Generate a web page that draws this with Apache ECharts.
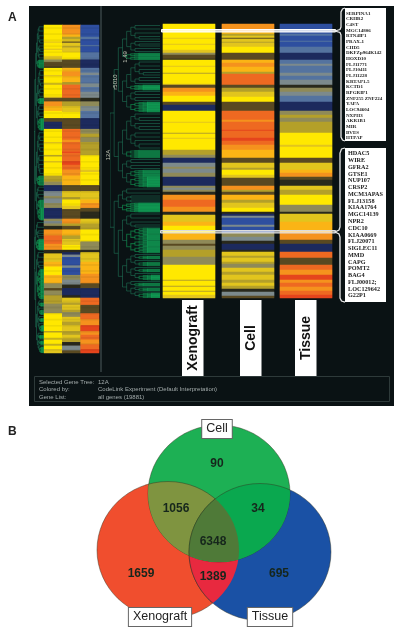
<!DOCTYPE html>
<html>
<head>
<meta charset="utf-8">
<title>Xenograft, Cell, Tissue</title>
<style>
html, body { margin: 0; padding: 0; background: #fff; }
#main { width: 400px; height: 635px; }
</style>
<script src="https://cdn.jsdelivr.net/npm/echarts@6/dist/echarts.min.js"></script>
</head>
<body>
<div id="main"></div>
<script>
// expression levels, low to high
var levelCodes = ['k', 'n', 'b', 'c', 'g', 'm', 'v', 't', 'h', 'y', 'a', 'o', 'r', 's'];
var levelColors = ['#2a2a1c', '#1d2b5e', '#2f4f9f', '#55739f', '#7d8a8c', '#5a4a22', '#8f8a58',
    '#b5a02a', '#e2c51e', '#ffe800', '#fbb416', '#f5921e', '#ee6a22', '#e5451c'];

var samples = ['Xenograft', 'Cell', 'Tissue'];
var rowCount = 274;

// bands: level code + row where the band ends
var xenograftBands = 'y14 h15 y20 h21 y26 h29 v31 m35 k36 y42 h43 y49 t50 y60 h61 m64 o68 a72 y78 m81 n87 y98 h99 y109 t110 y114 h115 y126 t131 v134 n139 g143 v145 g149 v153 n162 v164 g166 v168 k171 o176 r183 o188 k191 h198 a202 y209 a216 v220 m222 v226 t233 v241 y256 t257 y262 t263 y267 t268 y271 h274';
var cellBands = 'o8 a10 t12 h14 m15 h18 t19 h23 y29 m36 a39 o43 a48 t50 r61 m64 t68 h73 y78 m87 r96 o98 r106 s107 r114 s117 r121 o126 a134 m139 h144 t146 y151 h154 m162 o166 t168 m171 a176 t179 h184 y188 k190 n192 g194 b201 g203 b209 v213 g217 k220 n226 k228 h232 t234 h238 t240 v244 h248 t251 h256 t259 h262 t265 k268 g272 m274';
var tissueBands = 'b10 c12 b17 c18 b23 c29 n36 c40 g42 c49 g52 c56 g61 k64 v68 g72 c78 n87 v91 t94 v98 t109 y121 h123 y134 m139 h146 a149 o153 m156 k162 h166 t171 y181 v188 k190 h198 a208 o216 m220 n228 r234 m241 r246 o251 s256 o259 r263 o267 r271 s274';

// gene tree: number = single branch covering n rows, negative = dense cluster of n rows
var clusterA1 = [[[[3, 4], [4, [3, 2]]], [[3, [2, 2]], [3, 3]]], -7];
var clusterA2 = [[[[4, 4], [3, [3, 2]]], [[3, 3], 3]], -5];
var clusterA3 = [[[3, 3], [3, 3]], -10];
var clusterB = [[[[4, [3, 3]], [3, [3, 3]]], [[4, 4], [3, [4, 4]]]], -8];
var clusterC = [[[3, 3], [3, 3]], [-7, -10]];
var clusterD = [[[4, 4], [[2, 2], [2, 2]]], -9];
var clusterE = [[[4, 4], [4, [2, 2]]], -25];
var clusterF = [[[[3, -3], [3, -4]], [[3, -3], [3, -5]]], [[3, -3], [[2, -3], [2, -5]]]];
var geneTree = [[[clusterA1, [clusterA2, clusterA3]], [clusterB, clusterC]], [clusterD, [clusterE, clusterF]]];
var treeDepth = 12;

var upperGenes = ['SERPINA1', 'CRHR2', 'C4ST', 'MGC14806', 'RTN4IP1', 'PRAX-1', 'CHD5', 'DKFZp964K142', 'HOXD10', 'FLJ11771', 'FLJ10411', 'FLJ11228', 'KRTAP1-5', 'KCTD1', 'RPGRIP1', 'ZNF255 ZNF224', 'YAPA', 'LOC94604', 'NXPH3', 'AKR1B1', 'MIR', 'BVES', 'HTPAP'];
var lowerGenes = ['HDAC5', 'WIRE', 'GFRA2', 'GTSE1', 'NUP107', 'CRSP2', 'MCM3APAS', 'FLJ13158', 'KIAA1764', 'MGC14139', 'NPR2', 'CDC10', 'KIAA0669', 'FLJ20071', 'SIGLEC11', 'MMD', 'CAPG', 'POMT2', 'BAG4', 'FLJ00012;', 'LOC129642', 'G22P1'];

var infoLabels = ['Selected Gene Tree:', 'Colored by:', 'Gene List:'];
var infoValues = ['12A', 'CodeLink Experiment (Default Interpretation)', 'all genes (19881)'];

// venn diagram
var vennSets = ['Cell', 'Xenograft', 'Tissue'];
var vennSetX = [219, 168, 260];
var vennSetY = [493.5, 550, 552];
var vennRadiusX = 71;
var vennRadiusY = 68.5;
var vennCounts = [90, 1056, 34, 6348, 1659, 1389, 695];
var vennCountX = [217, 176, 258, 213, 141, 213, 279];
var vennCountY = [464, 509, 509, 542, 574, 577, 574];
var vennLabelX = [217, 160, 270];
var vennLabelY = [429, 617, 617];

function expandBands(bands) {
    var rows = [];
    bands.split(' ').forEach(function (b) {
        var level = levelCodes.indexOf(b.charAt(0));
        var end = +b.slice(1);
        while (rows.length < end) rows.push(level);
    });
    return rows;
}
var sampleRows = [expandBands(xenograftBands), expandBands(cellBands), expandBands(tissueBands)];
var rowNames = sampleRows[0].map(function (v, i) { return i; });

// walk the tree, one polyline for each bracket
function buildTreeLines() {
    var out = [];
    var cursor = 0;
    var sparse = { color: '#238f68', width: 0.9 };
    var dense = { color: '#12b560', width: 1.1 };
    function bracket(depth, kids, style) {
        var first = kids[0], last = kids[kids.length - 1];
        out.push({
            coords: [[first.d, first.y], [depth, first.y], [depth, last.y], [last.d, last.y]],
            lineStyle: style
        });
        for (var i = 1; i < kids.length - 1; i++) {
            out.push({ coords: [[depth, kids[i].y], [kids[i].d, kids[i].y]], lineStyle: style });
        }
        return { d: depth, y: (first.y + last.y) / 2 };
    }
    function wedge(rows, depth) {
        if (rows <= 0.5) {
            cursor += rows;
            return { d: treeDepth, y: cursor - rows / 2 };
        }
        var d = Math.min(depth, treeDepth - 0.5);
        return bracket(d, [wedge(rows / 2, depth + 1), wedge(rows / 2, depth + 1)], dense);
    }
    function walk(node, depth) {
        if (typeof node === 'number') {
            if (node < 0) return wedge(-node, depth);
            cursor += node;
            return { d: treeDepth, y: cursor - node / 2 };
        }
        return bracket(depth, node.map(function (c) { return walk(c, depth + 1); }), sparse);
    }
    walk(geneTree, 0);
    return out;
}
var treeLines = buildTreeLines();

var grids = [], xAxes = [], yAxes = [], series = [];

function addGrid(left, top, width, height, xAxis, yAxis) {
    var idx = grids.length;
    grids.push({ left: left, top: top, width: width, height: height, containLabel: false });
    xAxis.gridIndex = idx; xAxis.show = false;
    yAxis.gridIndex = idx; yAxis.show = false;
    xAxes.push(xAxis);
    yAxes.push(yAxis);
    return idx;
}

function addHeatmap(left, top, width, height, names) {
    var g = addGrid(left, top, width, height,
        { type: 'category', data: names },
        { type: 'category', data: rowNames, inverse: true });
    var data = [];
    names.forEach(function (name, c) {
        sampleRows[samples.indexOf(name)].forEach(function (v, r) { data.push([c, r, v]); });
    });
    series.push({ type: 'heatmap', xAxisIndex: g, yAxisIndex: g, data: data, silent: true, progressive: 0, itemStyle: { borderWidth: 0 } });
}

function addTree(left, top, width, height) {
    var g = addGrid(left, top, width, height,
        { type: 'value', min: 0, max: treeDepth },
        { type: 'value', min: 0, max: rowCount, inverse: true });
    series.push({ type: 'lines', coordinateSystem: 'cartesian2d', xAxisIndex: g, yAxisIndex: g, polyline: true, silent: true, data: treeLines });
}

addHeatmap(44, 25, 55, 328, samples);
addHeatmap(163, 24, 52, 274, ['Xenograft']);
addHeatmap(222, 24, 52, 274, ['Cell']);
addHeatmap(280, 24, 52, 274, ['Tissue']);
var heatmapSeries = [0, 1, 2, 3];

addTree(34, 25, 10, 328);
addTree(110, 24, 50, 274);

// venn: whole page as plot area
var vennGrid = addGrid(0, 0, 400, 635,
    { type: 'value', min: 0, max: 400 },
    { type: 'value', min: 0, max: 635, inverse: true });

var vennRegions = [
    { sets: [1], color: '#f04e2e' },
    { sets: [2], color: '#1a51a5' },
    { sets: [1, 2], color: '#e8293f' },
    { sets: [0], color: '#1db054' },
    { sets: [0, 1], color: '#7f9440' },
    { sets: [0, 2], color: '#0aa84f' },
    { sets: [0, 1, 2], color: '#4f7a38' }
];

function vennShape(api, i) {
    var p = api.coord([vennSetX[i], vennSetY[i]]);
    var s = api.size([vennRadiusX, vennRadiusY]);
    return { cx: p[0], cy: p[1], rx: s[0], ry: s[1] };
}

series.push({
    type: 'custom',
    xAxisIndex: vennGrid, yAxisIndex: vennGrid,
    silent: true,
    clip: false,
    data: vennRegions.map(function (r, i) { return [i]; }),
    renderItem: function (params, api) {
        var region = vennRegions[api.value(0)];
        var sets = region.sets;
        var el = {
            type: 'ellipse',
            shape: vennShape(api, sets[sets.length - 1]),
            style: { fill: region.color, stroke: 'rgba(50,50,30,0.45)', lineWidth: 1 }
        };
        if (sets.length > 1) el.clipPath = { type: 'ellipse', shape: vennShape(api, sets[0]) };
        if (sets.length > 2) {
            el.clipPath = { type: 'ellipse', shape: vennShape(api, sets[1]) };
            el = { type: 'group', clipPath: { type: 'ellipse', shape: vennShape(api, sets[0]) }, children: [el] };
        }
        return el;
    }
});

series.push({
    type: 'scatter',
    xAxisIndex: vennGrid, yAxisIndex: vennGrid,
    silent: true,
    symbolSize: 0,
    z: 5,
    itemStyle: { opacity: 1 },
    data: vennCounts.map(function (v, i) { return [vennCountX[i], vennCountY[i], v]; }),
    label: {
        show: true, position: 'inside',
        fontFamily: 'Liberation Sans', fontWeight: 'bold', fontSize: 12,
        color: '#16261c',
        formatter: function (p) { return String(p.value[2]); }
    }
});

series.push({
    type: 'scatter',
    xAxisIndex: vennGrid, yAxisIndex: vennGrid,
    silent: true,
    symbolSize: 0,
    z: 6,
    itemStyle: { opacity: 1 },
    data: vennSets.map(function (name, i) { return { name: name, value: [vennLabelX[i], vennLabelY[i]] }; }),
    label: {
        show: true, position: 'inside',
        fontFamily: 'Liberation Sans', fontSize: 12.5,
        color: '#222',
        backgroundColor: '#fff', borderColor: '#666', borderWidth: 1,
        padding: [3, 4, 2, 4],
        formatter: '{b}'
    }
});

// decoration around the marks
var deco = [];
var font = 'Liberation Sans';
deco.push({ type: 'rect', z: -10, shape: { x: 29, y: 6, width: 365, height: 400 }, style: { fill: '#0a1214' } });
deco.push({ type: 'line', z: -9, shape: { x1: 101, y1: 6, x2: 101, y2: 372 }, style: { stroke: '#4c5a5c', lineWidth: 1 } });
deco.push({ type: 'rect', z: -9, shape: { x: 34.5, y: 376.5, width: 355, height: 25 }, style: { fill: 'none', stroke: '#2e3a3a', lineWidth: 1 } });

function addText(text, x, y, size, opts) {
    opts = opts || {};
    deco.push({
        type: 'text', z: 20, x: x, y: y, rotation: opts.rotation || 0,
        style: {
            text: text, fill: opts.color || '#000',
            font: (opts.weight || 'normal') + ' ' + size + 'px "' + (opts.family || font) + '"',
            textAlign: opts.align || 'left', textVerticalAlign: 'middle'
        }
    });
}

addText('A', 8, 18, 12, { weight: 'bold', color: '#222' });
addText('B', 8, 432, 12, { weight: 'bold', color: '#222' });

infoLabels.forEach(function (t, i) {
    addText(t, 39, 382.5 + i * 7.2, 6, { color: '#a4acac' });
    addText(infoValues[i], 98, 382.5 + i * 7.2, 6, { color: '#a4acac' });
});

addText('12A', 108, 155, 6, { color: '#c4c8b8', rotation: Math.PI / 2, align: 'center' });
addText('r5010', 115, 82, 6, { color: '#c4c8b8', rotation: Math.PI / 2, align: 'center' });
addText('1.49', 125, 57, 6, { color: '#c4c8b8', rotation: Math.PI / 2, align: 'center' });

// sample labels under the main heatmap
var labelBoxX = [182, 240, 295];
samples.forEach(function (name, i) {
    deco.push({ type: 'rect', z: 10, shape: { x: labelBoxX[i], y: 300, width: 21.5, height: 76 }, style: { fill: '#fff' } });
    addText(name, labelBoxX[i] + 11, 338, 14, { weight: 'bold', rotation: Math.PI / 2, align: 'center', color: '#111' });
});

// gene lists
deco.push({ type: 'rect', z: 10, shape: { x: 345, y: 8, width: 41, height: 133 }, style: { fill: '#fff' } });
deco.push({ type: 'rect', z: 10, shape: { x: 345, y: 148, width: 41, height: 154 }, style: { fill: '#fff' } });
upperGenes.forEach(function (g, i) {
    addText(g, 346, 13.3 + i * 5.67, 5, { weight: 'bold', family: 'Liberation Serif', color: '#222' });
});
lowerGenes.forEach(function (g, i) {
    addText(g, 348, 153.7 + i * 6.77, 6.2, { weight: 'bold', family: 'Liberation Serif', color: '#222' });
});

// selected rows and braces
deco.push({ type: 'rect', z: 15, shape: { x: 161.5, y: 29.5, width: 174, height: 2.5 }, style: { fill: 'rgba(255,255,255,0.8)', stroke: '#fff', lineWidth: 1 } });
deco.push({ type: 'rect', z: 15, shape: { x: 160.5, y: 230.5, width: 175, height: 2.5 }, style: { fill: 'rgba(255,255,255,0.6)', stroke: '#ddd', lineWidth: 1 } });
deco.push({ type: 'polyline', z: 15, shape: { points: [[345, 8], [342.5, 9], [341, 12], [341, 27], [340, 29.5], [335, 31], [340, 32.5], [341, 35], [341, 137], [342.5, 140], [345, 141]] }, style: { fill: 'none', stroke: '#e8e8e8', lineWidth: 1.3 } });
deco.push({ type: 'polyline', z: 15, shape: { points: [[345, 148], [341.5, 149], [340, 153], [340, 227], [339, 230], [335, 232], [339, 234], [340, 237], [340, 298], [341.5, 301], [345, 302]] }, style: { fill: 'none', stroke: '#e8e8e8', lineWidth: 1.3 } });

var chart = echarts.init(document.getElementById('main'));
chart.setOption({
    animation: false,
    backgroundColor: '#fff',
    tooltip: { show: false },
    grid: grids,
    xAxis: xAxes,
    yAxis: yAxes,
    visualMap: {
        type: 'piecewise',
        show: false,
        dimension: 2,
        seriesIndex: heatmapSeries,
        pieces: levelColors.map(function (c, i) { return { value: i, color: c }; })
    },
    graphic: { elements: deco },
    series: series
});
</script>
</body>
</html>
